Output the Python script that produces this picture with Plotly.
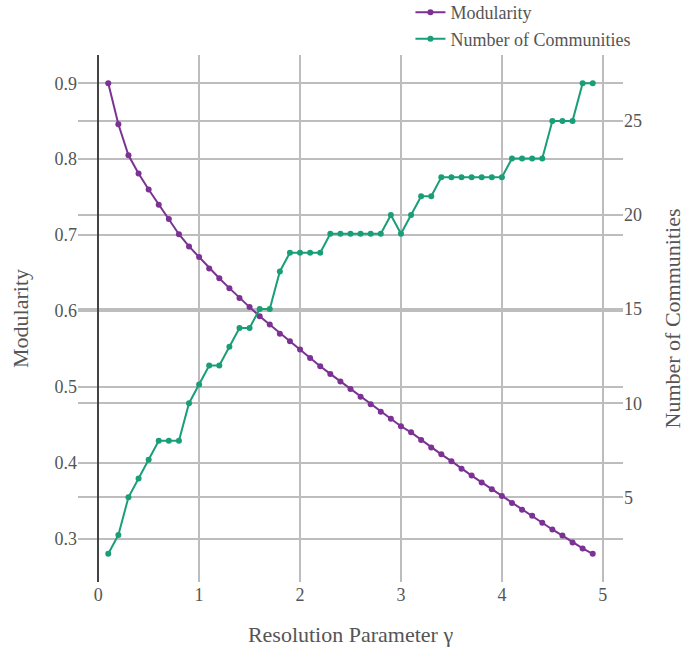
import plotly.graph_objects as go

# Resolution sweep results
gamma = [round(0.1 * i, 1) for i in range(1, 50)]

modularity = [
    0.900, 0.846, 0.805, 0.781, 0.760, 0.740, 0.721, 0.701, 0.685, 0.671,
    0.656, 0.643, 0.630, 0.617, 0.605, 0.593, 0.582, 0.570, 0.560, 0.549,
    0.538, 0.527, 0.517, 0.507, 0.497, 0.487, 0.477, 0.467, 0.458, 0.448,
    0.440, 0.430, 0.420, 0.411, 0.402, 0.392, 0.383, 0.374, 0.365, 0.356,
    0.347, 0.338, 0.330, 0.321, 0.312, 0.304, 0.295, 0.287, 0.280,
]

communities = [
    2, 3, 5, 6, 7, 8, 8, 8, 10, 11,
    12, 12, 13, 14, 14, 15, 15, 17, 18, 18,
    18, 18, 19, 19, 19, 19, 19, 19, 20, 19,
    20, 21, 21, 22, 22, 22, 22, 22, 22, 22,
    23, 23, 23, 23, 25, 25, 25, 27, 27,
]

x_ticks = [0, 1, 2, 3, 4, 5]
mod_ticks = [0.3, 0.4, 0.5, 0.6, 0.7, 0.8, 0.9]
comm_ticks = [5, 10, 15, 20, 25]

PURPLE = "#7b3294"
GREEN = "#1a9e77"
TEXT = "#555555"
GRID = "#bdbdbd"
FONT = "Liberation Serif"


def padded(vals, frac=0.06):
    lo, hi = min(vals), max(vals)
    pad = (hi - lo) * frac
    return [lo - pad, hi + pad]


fig = go.Figure()
fig.add_trace(go.Scatter(
    x=gamma, y=modularity, name="Modularity", mode="lines+markers",
    line=dict(color=PURPLE, width=2), marker=dict(color=PURPLE, size=6),
    yaxis="y",
))
fig.add_trace(go.Scatter(
    x=gamma, y=communities, name="Number of Communities", mode="lines+markers",
    line=dict(color=GREEN, width=2), marker=dict(color=GREEN, size=6),
    yaxis="y2",
))

fig.update_layout(
    width=685, height=650,
    margin=dict(l=78, r=62, t=55, b=68, autoexpand=False),
    paper_bgcolor="white", plot_bgcolor="white",
    font=dict(family=FONT, size=18, color=TEXT),
    showlegend=True,
    legend=dict(x=0.61, y=0.996, xanchor="left", yanchor="bottom",
                bgcolor="rgba(0,0,0,0)", font=dict(size=18, color=TEXT),
                tracegroupgap=0),
    xaxis=dict(
        range=[-0.2, 5.2], tickvals=x_ticks, ticks="",
        showgrid=True, gridcolor=GRID, gridwidth=1.5,
        zeroline=True, zerolinecolor="#444444", zerolinewidth=2,
        showline=False,
        title=dict(text="Resolution Parameter γ", font=dict(size=22, color=TEXT), standoff=22),
        tickfont=dict(size=18, color=TEXT),
    ),
    yaxis=dict(
        range=padded(modularity), tickvals=mod_ticks, ticks="",
        showgrid=True, gridcolor=GRID, gridwidth=1.5, zeroline=False,
        title=dict(text="Modularity", font=dict(size=22, color=TEXT), standoff=19),
        tickfont=dict(size=18, color=TEXT),
    ),
    yaxis2=dict(
        range=padded(communities), tickvals=comm_ticks, ticks="",
        overlaying="y", side="right",
        showgrid=True, gridcolor=GRID, gridwidth=1.5, zeroline=False,
        title=dict(text="Number of Communities", font=dict(size=22, color=TEXT), standoff=27),
        tickfont=dict(size=18, color=TEXT),
    ),
)

fig.write_html("out.html")
